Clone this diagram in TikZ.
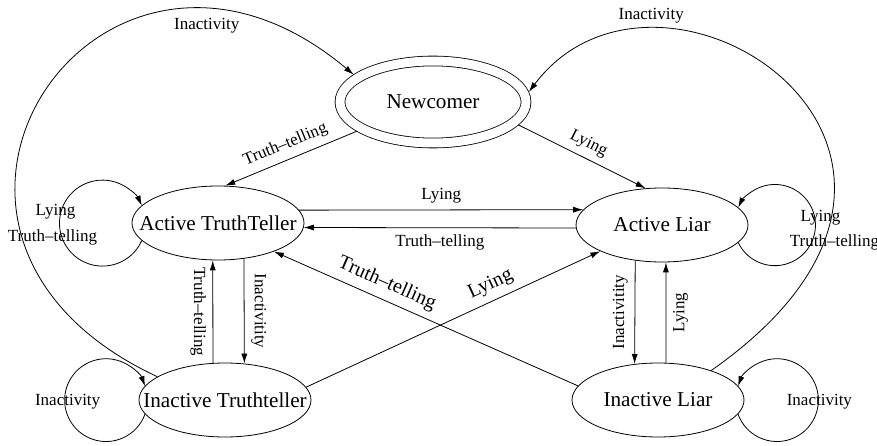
\documentclass[tikz,border=0pt]{standalone}
\usepackage{fontspec}
\setmainfont{Liberation Serif}
\usetikzlibrary{shapes.geometric, arrows.meta}

\begin{document}
\begin{tikzpicture}[x=0.5pt, y=0.5pt, >={Latex[length=5pt, width=3pt]},
    every node/.style={font=\fontsize{8.5}{10}\selectfont},
    state/.style={draw, ellipse, minimum width=86pt, minimum height=37pt,
        inner xsep=-25pt, inner ysep=0pt, font=\fontsize{10.6}{12}\selectfont},
    biglbl/.style={font=\fontsize{10}{12}\selectfont}]
    \useasboundingbox (0,0) rectangle (877,445);

    \node[state, double, double distance=4.5pt, minimum width=93pt, minimum height=41pt, outer sep=2.6pt] (nc) at (433,343) {Newcomer};
    \node[state] (att) at (218,222) {Active TruthTeller};
    \node[state] (al) at (662,220) {Active Liar};
    \node[state] (itt) at (225,45) {Inactive Truthteller};
    \node[state] (il) at (658,45) {Inactive Liar};

    \draw[->] (nc.201) -- node[above, sloped] {Truth--telling} (att.79);
    \draw[->] (nc.345) -- node[above, sloped] {Lying} (al.114);

    \draw[->] (att.9) -- node[above] {Lying} (al.169);
    \draw[->] (al.182) -- node[below] {Truth--telling} (att.357);

    \draw[->] (itt.108) -- node[rotate=-90, anchor=north] {Truth--telling} (att.262);
    \draw[->] (att.306) -- node[rotate=-90, anchor=south] {Inactivitity} (itt.62);
    \draw[->] (al.233) -- node[rotate=90, anchor=south] {Inactivitity} (il.123);
    \draw[->] (il.78) -- node[rotate=90, anchor=north] {Lying} (al.276);

    \draw[->] (il.170) -- node[biglbl, pos=.65, above, sloped] {Truth--telling} (att.333);
    \draw[->] (itt.9) -- node[biglbl, pos=.65, above, sloped] {Lying} (al.203);

    \draw[->] (att.193) arc[start angle=-24, end angle=-336, radius=43]
        node[pos=.5, xshift=-2pt, yshift=5.5pt] {Lying}
        node[pos=.5, xshift=-3.5pt, yshift=-7pt] {Truth--telling};
    \draw[->] (al.347) arc[start angle=-154.4, end angle=154.4, radius=40.6]
        node[pos=.5, xshift=2.5pt, yshift=3.5pt] {Lying}
        node[pos=.5, xshift=9.5pt, yshift=-8.5pt] {Truth--telling};
    \draw[->] (itt.190) arc[start angle=-19.75, end angle=-340.25, radius=41.4]
        node[pos=.5, xshift=1.5pt, yshift=-1pt] {Inactivity};
    \draw[->] (il.350) arc[start angle=-160.25, end angle=160.25, radius=41.4]
        node[pos=.5, xshift=.5pt, yshift=-1pt] {Inactivity};

    \draw[->] (itt.161) .. controls +(155:340) and +(140:330) .. node[pos=.8, below] {Inactivity} (nc.161);
    \draw[->] (il.29) .. controls +(35:380) and +(53:220) .. node[pos=.76, above] {Inactivity} (nc.6);
\end{tikzpicture}
\end{document}
